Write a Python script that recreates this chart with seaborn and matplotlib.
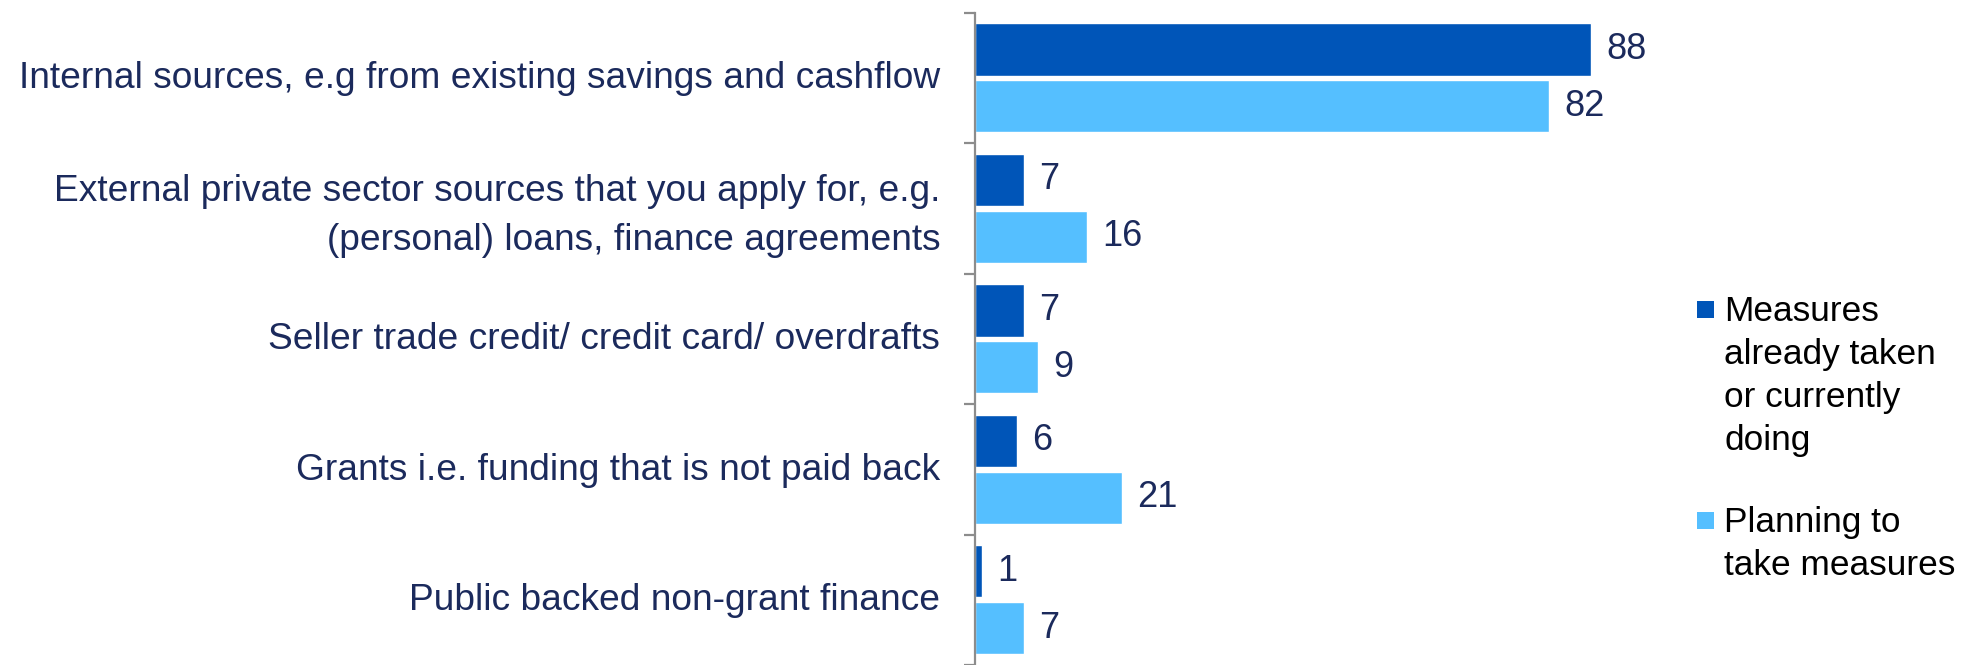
import matplotlib
matplotlib.use("Agg")
import matplotlib.pyplot as plt
import matplotlib.transforms as mtransforms
from matplotlib.patches import Rectangle
from matplotlib.ticker import FixedLocator
import seaborn as sns
import pandas as pd

# Funding sources and shares (%) for each group of businesses
sources = [
    "Internal sources, e.g from existing savings and cashflow",
    "External private sector sources that you apply for, e.g.\n(personal) loans, finance agreements",
    "Seller trade credit/ credit card/ overdrafts",
    "Grants i.e. funding that is not paid back",
    "Public backed non-grant finance",
]
already_taken = [88, 7, 7, 6, 1]
planning = [82, 16, 9, 21, 7]
series_names = ["Measures already taken or currently doing", "Planning to take measures"]
legend_labels = ["Measures\nalready taken\nor currently\ndoing", "Planning to\ntake measures"]

DARK = "#0055B8"
LIGHT = "#55BFFF"
NAVY = "#1B2A5C"
SPINE = "#8C8C8C"

df = pd.DataFrame({
    "source": sources * 2,
    "value": already_taken + planning,
    "series": [series_names[0]] * len(sources) + [series_names[1]] * len(sources),
})

sns.set_theme(style="white")
plt.rcParams["font.family"] = ["Liberation Sans", "DejaVu Sans"]

W, H, DPI = 1978, 665, 100
fig = plt.figure(figsize=(W / DPI, H / DPI), dpi=DPI)
ax_left = 975 / W
ax_top = 1 - 12.6 / H
ax_width = 90 * 7.0 / W
ax = fig.add_axes([ax_left, 0.0, ax_width, ax_top])

sns.barplot(
    data=df, y="source", x="value", hue="series", order=sources,
    hue_order=series_names, palette=[DARK, LIGHT], orient="h",
    width=0.87, gap=0.08, legend=False, ax=ax, saturation=1,
)

ax.set_xlim(0, 90)
ax.set_ylim(len(sources) - 0.5, -0.5)
ax.set_xlabel("")
ax.set_ylabel("")
ax.xaxis.set_visible(False)
for side in ("top", "right", "bottom"):
    ax.spines[side].set_visible(False)
ax.spines["left"].set_color(SPINE)
ax.spines["left"].set_linewidth(1.6)

# category labels at centres, tick marks at the boundaries between groups
ax.tick_params(axis="y", which="major", length=0, pad=25, labelsize=26.7, labelcolor=NAVY)
ax.yaxis.set_minor_locator(FixedLocator([i - 0.5 for i in range(len(sources) + 1)]))
ax.tick_params(axis="y", which="minor", length=8, width=1.6, color=SPINE, left=True)
lift = mtransforms.ScaledTranslation(0, 3 / DPI, fig.dpi_scale_trans)
for lbl in ax.get_yticklabels():
    lbl.set_horizontalalignment("right")
    lbl.set_multialignment("right")
    lbl.set_linespacing(1.5)
    lbl.set_transform(lbl.get_transform() + lift)

for cont in ax.containers:
    ax.bar_label(cont, fmt="%d", padding=11, fontsize=26, color=NAVY)

# legend: squares aligned with the first line of each label
legend_items = [(DARK, legend_labels[0], 301), (LIGHT, legend_labels[1], 512)]
for color, text, ytop in legend_items:
    sq = 17
    fig.add_artist(Rectangle((1697 / W, 1 - (ytop + sq) / H), sq / W, sq / H,
                             transform=fig.transFigure, facecolor=color, edgecolor="none"))
    fig.text(1724 / W, 1 - (ytop - 6) / H, text, ha="left", va="top",
             fontsize=25.4, color="black", linespacing=1.38)

fig.savefig("out.png", dpi=DPI)
